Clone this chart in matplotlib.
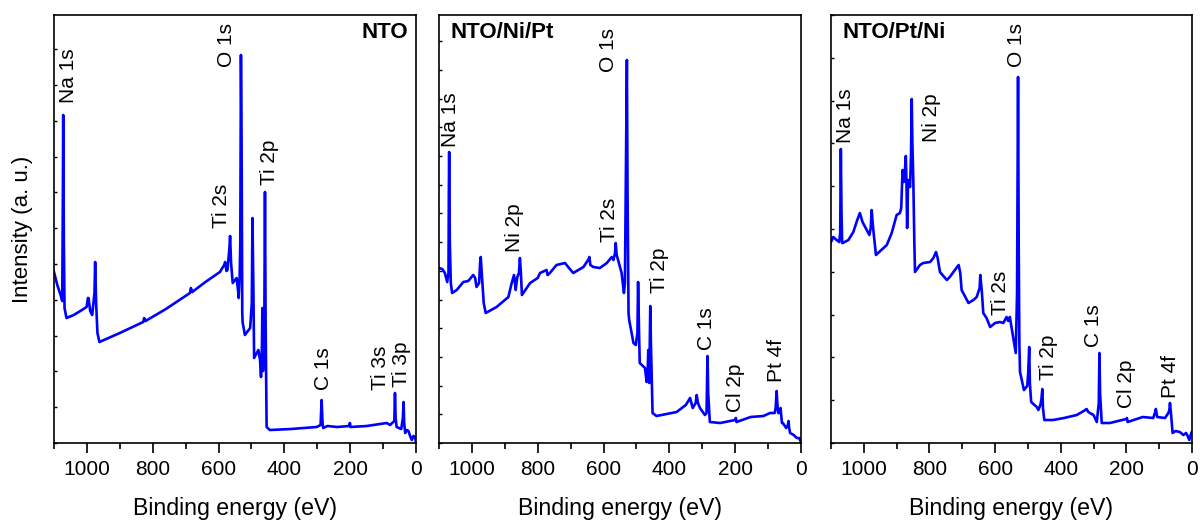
import matplotlib
matplotlib.use("Agg")
import matplotlib.pyplot as plt
from matplotlib.ticker import MultipleLocator

plt.rcParams['font.family'] = ['Liberation Sans', 'DejaVu Sans']

# binding energy (eV) / intensity (a. u.)
nto_e = [1100, 1090, 1080, 1075, 1073, 1072, 1070, 1068, 1062, 1040, 1020, 1001, 997, 995, 990, 984,
         977, 975, 972, 968, 962, 900, 829, 826, 822, 760, 687, 684, 680, 640, 596, 583, 580, 576,
         573, 567, 565, 562, 557, 545, 540, 539, 536, 534, 532, 530, 528, 527, 520, 504, 499, 497,
         494, 492, 479, 474, 471, 468, 467, 465, 461, 459, 457, 454, 444, 380, 302, 290, 287, 284,
         282, 269, 240, 203, 201, 199, 150, 89, 79, 66, 64, 62, 59, 45, 40, 38, 36, 33, 28, 23, 18,
         13, 8, 3, 0]
nto_i = [171, 158, 148, 142, 250, 328, 200, 135, 125, 128, 132, 136, 145, 145, 132, 128,
         150, 181, 140, 110, 101, 110, 121, 125, 122, 134, 150, 155, 151, 161, 171, 178, 181, 172,
         173, 195, 207, 180, 160, 165, 150, 145, 166, 200, 388, 300, 130, 121, 108, 115, 140, 225,
         150, 85, 93, 83, 66, 100, 135, 72, 120, 251, 120, 16, 13, 14, 16, 18, 43, 20,
         15, 17, 16, 17, 20, 16, 17, 20, 18, 22, 50, 25, 16, 14, 25, 41, 20, 10, 13, 12, 7,
         3, 7, 6, 0]

nipt_e = [1100, 1090, 1082, 1075, 1071, 1070, 1069, 1067, 1064, 1060, 1046, 1026, 1011, 996, 990, 986,
          978, 975, 973, 970, 964, 958, 925, 889, 879, 872, 869, 867, 862, 857, 854, 851, 848, 823,
          800, 793, 773, 770, 763, 743, 717, 705, 692, 661, 645, 643, 640, 631, 611, 590, 575, 570,
          565, 563, 560, 550, 545, 538, 535, 529, 527, 524, 522, 509, 502, 497, 495, 492, 490, 474,
          469, 466, 464, 461, 458, 456, 451, 439, 378, 350, 337, 333, 329, 320, 317, 313, 307, 292,
          287, 285, 284, 282, 277, 246, 200, 198, 196, 153, 114, 94, 80, 77, 74, 72, 69, 65, 62,
          58, 55, 45, 40, 38, 36, 33, 22, 13, 6, 0]
nipt_i = [175, 174, 170, 161, 170, 250, 291, 200, 160, 150, 153, 161, 162, 168, 165, 156,
          160, 180, 186, 170, 140, 130, 136, 146, 160, 168, 160, 153, 166, 170, 185, 170, 148, 160,
          165, 170, 173, 168, 170, 178, 180, 175, 170, 176, 184, 186, 178, 176, 175, 180, 186, 183,
          190, 200, 188, 176, 170, 150, 160, 383, 250, 130, 123, 100, 98, 110, 161, 110, 80, 75,
          61, 70, 93, 60, 137, 100, 30, 27, 31, 38, 45, 40, 35, 40, 48, 40, 35, 28,
          30, 70, 87, 50, 21, 20, 23, 25, 21, 26, 27, 30, 30, 35, 52, 40, 30, 30, 35,
          20, 20, 15, 18, 22, 15, 10, 8, 5, 5, 1]

ptni_e = [1100, 1093, 1083, 1075, 1072, 1071, 1070, 1068, 1066, 1064, 1047, 1032, 1020, 1012, 1004, 991,
          983, 979, 976, 973, 971, 963, 950, 930, 915, 900, 890, 886, 882, 878, 875, 872, 870, 868,
          865, 859, 856, 854, 852, 849, 846, 844, 829, 819, 798, 788, 780, 775, 768, 760, 747, 738,
          727, 711, 706, 702, 681, 666, 656, 647, 645, 640, 636, 626, 615, 600, 585, 575, 565, 560,
          555, 550, 542, 537, 533, 530, 528, 526, 524, 512, 502, 499, 496, 494, 490, 473, 468, 462,
          459, 456, 454, 450, 423, 390, 351, 330, 321, 316, 300, 290, 284, 282, 280, 275, 250, 200,
          198, 196, 150, 118, 113, 110, 106, 82, 72, 69, 67, 64, 62, 59, 50, 37, 30, 26, 18, 13, 8,
          4, 1, 0]
ptni_i = [201, 206, 203, 201, 210, 260, 294, 230, 200, 200, 203, 211, 223, 230, 221, 213,
          208, 215, 233, 220, 213, 188, 192, 198, 210, 228, 230, 235, 273, 261, 270, 287, 260, 215,
          263, 256, 290, 344, 300, 260, 200, 171, 178, 180, 181, 185, 191, 185, 171, 168, 163, 166,
          171, 178, 170, 153, 140, 143, 146, 155, 168, 150, 130, 125, 116, 120, 121, 120, 126, 122,
          126, 116, 100, 90, 150, 366, 200, 100, 71, 53, 57, 70, 96, 60, 41, 36, 33, 38,
          43, 54, 35, 23, 23, 25, 28, 32, 34, 31, 28, 21, 40, 90, 50, 20, 20, 24,
          25, 21, 26, 25, 30, 34, 26, 25, 30, 33, 40, 30, 22, 10, 12, 11, 9, 8, 10, 7, 3,
          8, 11, 11]

# peak labels: text, energy, height of the text foot
nto_labels = ["Na 1s", "O 1s", "Ti 2s", "Ti 2p", "C 1s", "Ti 3s", "Ti 3p"]
nto_lab_e = [1057, 575, 590, 444, 282, 107, 43]
nto_lab_y = [340, 376, 215, 258, 53, 53, 56]

nipt_labels = ["Na 1s", "Ni 2p", "Ti 2s", "O 1s", "Ti 2p", "C 1s", "Cl 2p", "Pt 4f"]
nipt_lab_e = [1064, 869, 583, 586, 430, 287, 200, 74]
nipt_lab_y = [296, 191, 201, 371, 150, 93, 31, 61]

ptni_labels = ["Na 1s", "Ni 2p", "Ti 2s", "O 1s", "Ti 2p", "C 1s", "Cl 2p", "Pt 4f"]
ptni_lab_e = [1057, 793, 582, 534, 438, 299, 199, 65]
ptni_lab_y = [300, 301, 128, 376, 63, 96, 35, 45]

panels = [
    ("NTO", nto_e, nto_i, nto_labels, nto_lab_e, nto_lab_y, 35.8, [0.045, 0.1497, 0.3017, 0.8215]),
    ("NTO/Ni/Pt", nipt_e, nipt_i, nipt_labels, nipt_lab_e, nipt_lab_y, 28.7, [0.3658, 0.1497, 0.3017, 0.8215]),
    ("NTO/Pt/Ni", ptni_e, ptni_i, ptni_labels, ptni_lab_e, ptni_lab_y, 42.8, [0.6925, 0.1497, 0.3008, 0.8215]),
]

fig = plt.figure(figsize=(12, 5.21), dpi=100)

for k, (name, e, inten, labs, lab_e, lab_y, ystep, rect) in enumerate(panels):
    ax = fig.add_axes(rect)
    ax.plot(e, inten, color="#0000ff", lw=1.9)
    ax.set_xlim(1100, 0)
    ax.set_ylim(0, 428)
    for t, xe, ye in zip(labs, lab_e, lab_y):
        ax.text(xe, ye, t, rotation=90, ha="center", va="bottom", fontsize=15)
    if k == 0:
        ax.text(0.978, 0.958, name, transform=ax.transAxes, ha="right", va="center",
                fontsize=16, fontweight="bold")
        ax.set_ylabel("Intensity (a. u.)", fontsize=16, labelpad=15)
    else:
        ax.text(0.032, 0.958, name, transform=ax.transAxes, ha="left", va="center",
                fontsize=16, fontweight="bold")
    ax.xaxis.set_major_locator(MultipleLocator(200))
    ax.xaxis.set_minor_locator(MultipleLocator(100))
    ax.yaxis.set_major_locator(MultipleLocator(ystep))
    ax.tick_params(axis="x", which="major", direction="out", length=7, width=1.2,
                   labelsize=15, pad=5)
    ax.tick_params(axis="x", which="minor", direction="out", length=4, width=1.2)
    ax.tick_params(axis="y", which="major", direction="in", length=2.5, width=1.0,
                   labelleft=False)
    ax.set_xlabel("Binding energy (eV)", fontsize=16.7, labelpad=13)
    for s in ax.spines.values():
        s.set_linewidth(1.2)

fig.savefig("out.png", dpi=100)
